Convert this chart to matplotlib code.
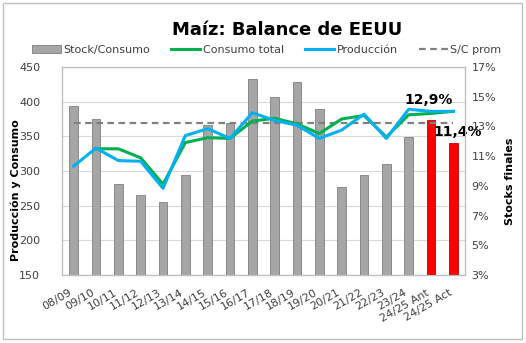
import numpy as np
import matplotlib
matplotlib.use("Agg")
import matplotlib.pyplot as plt
from matplotlib.patches import Rectangle

plt.rcParams['font.family'] = ['DejaVu Sans']

campanas = ["08/09", "09/10", "10/11", "11/12", "12/13", "13/14", "14/15", "15/16",
            "16/17", "17/18", "18/19", "19/20", "20/21", "21/22", "22/23", "23/24",
            "24/25 Ant", "24/25 Act"]
# stock final / consumo (%)
stock_consumo = [13.9, 13.0, 8.6, 7.9, 7.4, 9.2, 12.6, 12.7, 15.7, 14.5, 15.5, 13.7,
                 8.4, 9.2, 10.0, 11.8, 12.9, 11.4]
# millones de toneladas
consumo = [np.nan, 332, 332, 319, 281, 341, 348, 347, 372, 376, 368, 354,
           375, 380, 349, 381, 383, 386]
produccion = [307, 333, 315, 314, 275, 351, 361, 347, 384, 373, 366, 347,
              359, 382, 347, 389, 386, 386]
sc_prom = 12.75
destacadas = ["24/25 Ant", "24/25 Act"]

x = np.arange(len(campanas))
gris_txt = '#404040'

fig = plt.figure(figsize=(5.26, 3.43), dpi=100)
fig.patches.append(Rectangle((0.005, 0.012), 0.988, 0.98, transform=fig.transFigure,
                             fill=False, edgecolor='#BFBFBF', linewidth=1))

pos = [0.1188, 0.1983, 0.7643, 0.6064]
ax = fig.add_axes(pos)
ax.set_ylim(150, 450)
ax.set_yticks(np.arange(150, 451, 50))
ax.grid(axis='y', color='#D9D9D9', linewidth=0.8)
ax.set_axisbelow(True)
ax.set_xlim(-0.5, len(campanas) - 0.5)
ax.set_xticks(x)
ax.set_xticklabels(campanas, rotation=30, ha='right', fontsize=8, color=gris_txt)
ax.tick_params(axis='both', length=0, labelsize=8, labelcolor=gris_txt)
ax.tick_params(axis='x', pad=9)
ax.tick_params(axis='y', pad=16)
ax.set_ylabel('Producción y Consumo', fontsize=8, fontweight='bold')
ax.yaxis.set_label_coords(-0.104, 0.41)

# barras de stocks en el eje secundario
ax2 = ax.twinx()
colores = ['#FF0000' if c in destacadas else '#A6A6A6' for c in campanas]
bordes = ['#C00000' if c in destacadas else '#7F7F7F' for c in campanas]
barras = ax2.bar(x, stock_consumo, width=0.4, color=colores, edgecolor=bordes,
                 linewidth=0.6, label='Stock/Consumo')
linea_prom, = ax2.plot(x, [sc_prom] * len(x), color='#808080', linestyle=(0, (3, 2)),
                       linewidth=1.6, label='S/C prom')
ticks2 = np.arange(2.5, 17, 2)
ax2.set_ylim(2.5, 16.5)
ax2.set_yticks(ticks2)
ax2.set_yticklabels([f"{int(t + 0.5)}%" for t in ticks2])
ax2.tick_params(axis='y', length=0, labelsize=8, labelcolor=gris_txt, pad=5)
ax2.set_ylabel('Stocks finales', fontsize=8, fontweight='bold')
ax2.yaxis.set_label_coords(1.101, 0.45)

for c, v in zip(campanas, stock_consumo):
    if c in destacadas:
        i = campanas.index(c)
        dx, dy = (-2, 15) if i == len(campanas) - 2 else (3, 8)
        ax2.annotate(f"{v:.1f}%".replace('.', ','), (i, v), xytext=(dx, dy),
                     textcoords='offset points', ha='center', va='center',
                     fontsize=10, fontweight='bold', color='black')

# lineas de produccion y consumo encima de todo
ax3 = ax.twinx()
ax3.set_ylim(150, 450)
ax3.set_yticks([])
linea_cons, = ax3.plot(x, consumo, color='#00B050', linewidth=2.2, label='Consumo total')
linea_prod, = ax3.plot(x, produccion, color='#00B0F0', linewidth=2.2, label='Producción')

for a in (ax, ax2, ax3):
    for s in a.spines.values():
        s.set_color('#BFBFBF')
        s.set_linewidth(0.8)

fig.text(0.545, 0.912, 'Maíz: Balance de EEUU', ha='center', va='center',
         fontsize=13, fontweight='bold')
fig.legend([barras, linea_cons, linea_prod, linea_prom],
           ['Stock/Consumo', 'Consumo total', 'Producción', 'S/C prom'],
           loc='center', bbox_to_anchor=(0.507, 0.854), ncol=4, frameon=False,
           fontsize=8, handlelength=2.6, handletextpad=0.2, columnspacing=1.95,
           labelcolor=gris_txt)

fig.savefig('out.png', dpi=100)
